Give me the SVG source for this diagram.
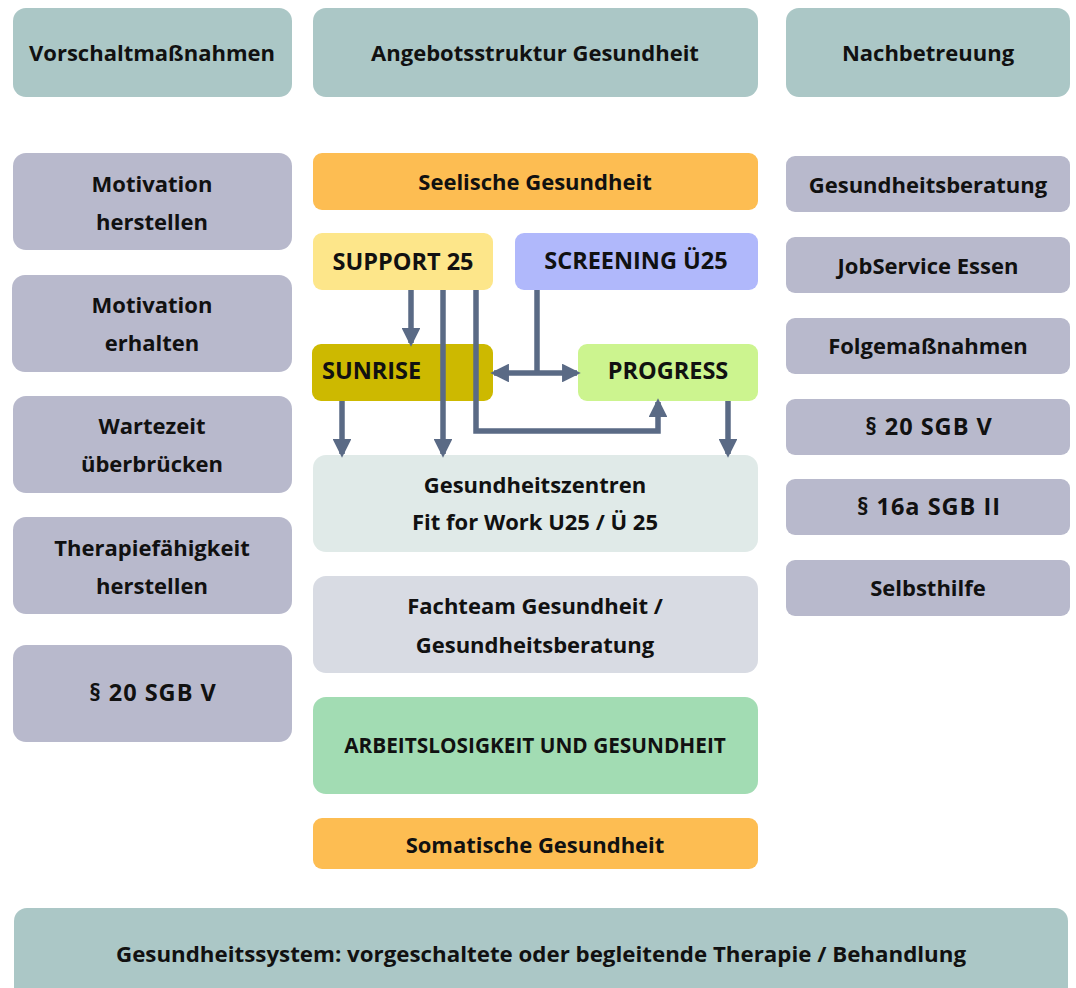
<svg xmlns="http://www.w3.org/2000/svg" width="1076" height="988" viewBox="0 0 1076 988">
<defs>
<style>
text{font-family:"Open Sans","Liberation Sans",sans-serif;font-weight:bold;font-size:22px;fill:#111;text-anchor:middle;dominant-baseline:central}
.cp{font-size:23.5px}
.sg{font-size:23.5px;letter-spacing:1px}
.hd{fill:#abc7c6}
.gr{fill:#b8b9cc}
.or{fill:#fdbd52}
.ar{stroke:#5a6a85;stroke-width:5.5;fill:none}
.ah{fill:#5a6a85}
</style>
<marker id="m" viewBox="0 0 10 10" refX="8" refY="5" markerWidth="3.4" markerHeight="3.4" orient="auto-start-reverse" markerUnits="strokeWidth">
<path d="M0,0 L10,5 L0,10 Z" class="ah"/>
</marker>
</defs>
<rect width="1076" height="988" fill="#fff"/>

<g id="h1"><rect class="hd" x="13" y="8" width="279" height="89" rx="13"/><text x="152" y="52">Vorschaltmaßnahmen</text></g>
<g id="h2"><rect class="hd" x="313" y="8" width="445" height="89" rx="13"/><text x="535" y="52">Angebotsstruktur Gesundheit</text></g>
<g id="h3"><rect class="hd" x="786" y="8" width="284" height="89" rx="13"/><text x="928" y="52">Nachbetreuung</text></g>

<g id="l1"><rect class="gr" x="13" y="153" width="279" height="97" rx="13"/><text x="152" y="183">Motivation</text><text x="152" y="221">herstellen</text></g>
<g id="l2"><rect class="gr" x="12" y="275" width="280" height="97" rx="13"/><text x="152" y="304">Motivation</text><text x="152" y="342">erhalten</text></g>
<g id="l3"><rect class="gr" x="13" y="396" width="279" height="97" rx="13"/><text x="152" y="425">Wartezeit</text><text x="152" y="463">überbrücken</text></g>
<g id="l4"><rect class="gr" x="13" y="517" width="279" height="97" rx="13"/><text x="152" y="547">Therapiefähigkeit</text><text x="152" y="585">herstellen</text></g>
<g id="l5"><rect class="gr" x="13" y="645" width="279" height="97" rx="13"/><text class="sg" x="153" y="692">§ 20 SGB V</text></g>

<g id="c1"><rect class="or" x="313" y="153" width="445" height="57" rx="9"/><text x="535" y="181">Seelische Gesundheit</text></g>
<g id="c2"><rect fill="#fde68a" x="313" y="233" width="180" height="57" rx="9"/><text class="cp" x="403" y="261">SUPPORT 25</text></g>
<g id="c3"><rect fill="#b0b8fb" x="515" y="233" width="243" height="57" rx="9"/><text class="cp" x="636" y="260">SCREENING Ü25</text></g>
<g id="c4"><rect fill="#cdb900" x="312" y="344" width="181" height="57" rx="9"/><text class="cp" x="322" y="370" style="text-anchor:start">SUNRISE</text></g>
<g id="c5"><rect fill="#ccf48f" x="578" y="344" width="180" height="57" rx="9"/><text class="cp" x="668" y="370">PROGRESS</text></g>
<g id="c6"><rect fill="#e0eae8" x="313" y="455" width="445" height="97" rx="13"/><text x="535" y="484">Gesundheitszentren</text><text x="535" y="521">Fit for Work U25 / Ü 25</text></g>
<g id="c7"><rect fill="#d8dbe3" x="313" y="576" width="445" height="97" rx="13"/><text x="535" y="605">Fachteam Gesundheit /</text><text x="535" y="644">Gesundheitsberatung</text></g>
<g id="c8"><rect fill="#a2dcb3" x="313" y="697" width="445" height="97" rx="13"/><text x="535" y="745" style="font-size:20.8px">ARBEITSLOSIGKEIT UND GESUNDHEIT</text></g>
<g id="c9"><rect class="or" x="313" y="818" width="445" height="51" rx="9"/><text x="535" y="844">Somatische Gesundheit</text></g>

<g id="r1"><rect class="gr" x="786" y="156" width="284" height="56" rx="9"/><text x="928" y="184">Gesundheitsberatung</text></g>
<g id="r2"><rect class="gr" x="786" y="237" width="284" height="56" rx="9"/><text x="928" y="265">JobService Essen</text></g>
<g id="r3"><rect class="gr" x="786" y="318" width="284" height="56" rx="9"/><text x="928" y="345">Folgemaßnahmen</text></g>
<g id="r4"><rect class="gr" x="786" y="399" width="284" height="56" rx="9"/><text class="sg" x="929" y="426">§ 20 SGB V</text></g>
<g id="r5"><rect class="gr" x="786" y="479" width="284" height="56" rx="9"/><text class="sg" x="929" y="506">§ 16a SGB II</text></g>
<g id="r6"><rect class="gr" x="786" y="560" width="284" height="56" rx="9"/><text x="928" y="587">Selbsthilfe</text></g>

<g id="bottom"><rect class="hd" x="14" y="908" width="1054" height="100" rx="13"/><text x="541" y="953" textLength="850" lengthAdjust="spacingAndGlyphs">Gesundheitssystem: vorgeschaltete oder begleitende Therapie / Behandlung</text></g>

<g id="connectors">
<path class="ar" d="M411,290 V343" marker-end="url(#m)"/>
<path class="ar" d="M443,290 V454" marker-end="url(#m)"/>
<path class="ar" d="M476,290 V431 H658 V402" marker-end="url(#m)"/>
<path class="ar" d="M537,290 V373"/>
<path class="ar" d="M494,373 H577" marker-start="url(#m)" marker-end="url(#m)"/>
<path class="ar" d="M342,401 V454" marker-end="url(#m)"/>
<path class="ar" d="M728,401 V454" marker-end="url(#m)"/>
</g>
</svg>
